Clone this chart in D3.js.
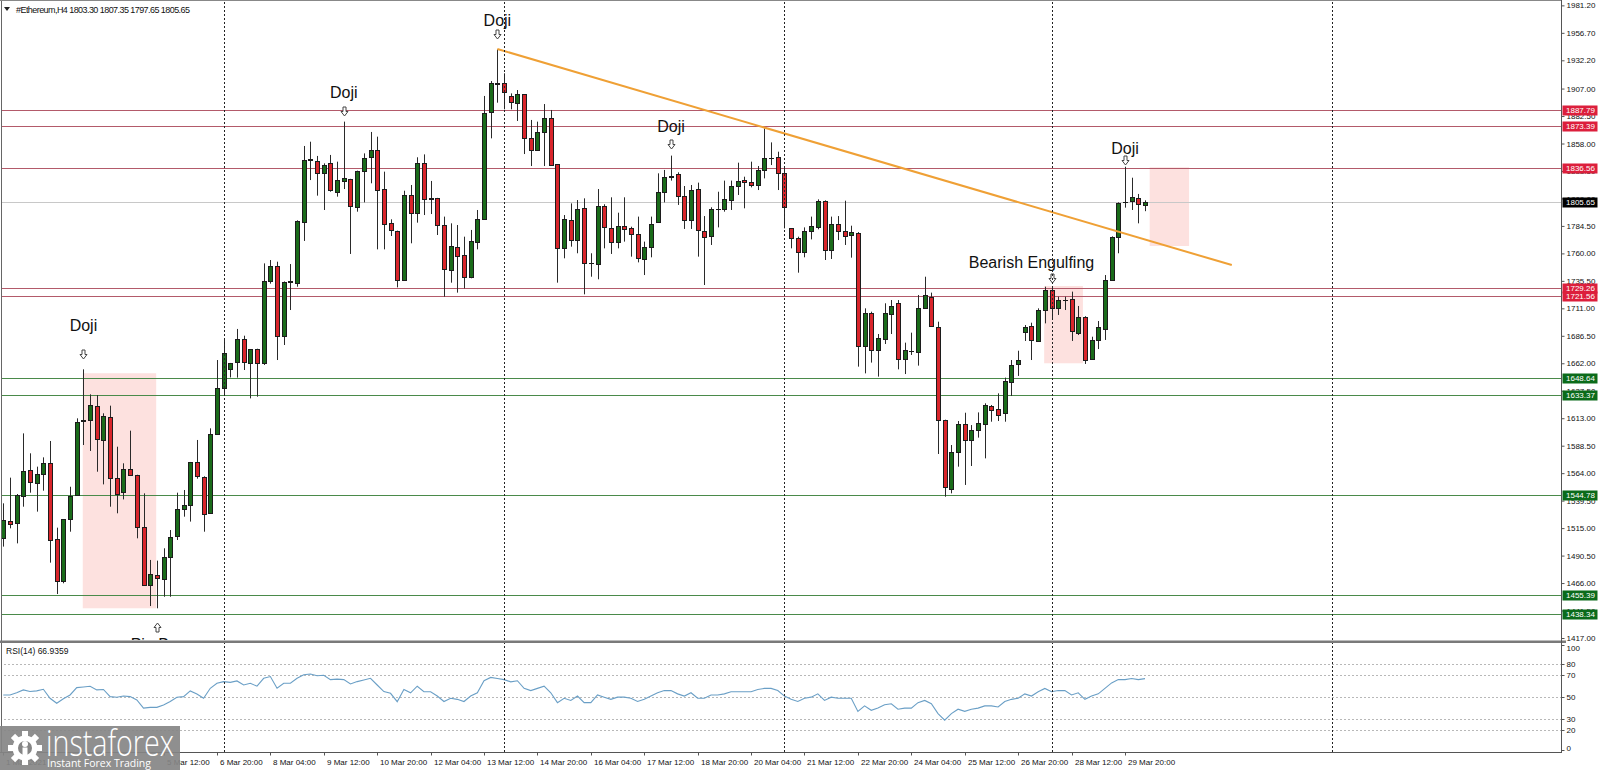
<!DOCTYPE html>
<html><head><meta charset="utf-8">
<script src="https://cdn.jsdelivr.net/npm/d3@7"></script>
<style>body{margin:0;background:#fff;overflow:hidden}svg{display:block}</style>
</head><body><svg id="c" width="1599" height="770"></svg>
<script>
// ---------------- DATA ----------------
const opens = [1505.9,1521.6,1519.9,1543.6,1566.8,1555.5,1563.3,1572.8,1505.0,1467.2,1523.7,1544.5,1610.2,1611.4,1624.2,1594.2,1614.4,1560.0,1546.9,1567.4,1562.4,1516.3,1464.3,1473.2,1470.2,1489.6,1507.4,1531.7,1535.6,1573.6,1560.9,1528.2,1598.9,1639.7,1656.6,1662.5,1683.4,1662.0,1674.7,1662.5,1735.7,1748.8,1686.3,1734.8,1733.9,1788.3,1843.3,1842.4,1831.4,1840.3,1815.0,1824.6,1826.0,1801.7,1833.5,1845.7,1852.2,1817.1,1786.8,1780.0,1736.3,1812.1,1795.7,1840.3,1808.5,1809.1,1785.3,1745.2,1765.4,1758.6,1738.6,1770.5,1790.7,1885.5,1911.7,1911.7,1900.4,1893.8,1901.8,1862.6,1852.2,1867.7,1881.0,1839.4,1764.5,1789.8,1771.4,1800.2,1751.1,1750.5,1802.3,1782.9,1770.5,1784.7,1782.9,1777.3,1755.6,1765.4,1787.7,1814.2,1828.5,1830.5,1811.2,1789.8,1817.1,1780.3,1775.5,1799.6,1799.3,1808.2,1820.4,1825.5,1824.0,1821.0,1834.4,1844.8,1845.7,1831.4,1782.3,1774.0,1761.5,1780.0,1783.8,1807.0,1763.0,1785.9,1780.0,1775.8,1778.5,1677.4,1706.5,1673.8,1683.7,1706.6,1715.5,1665.5,1673.2,1672.4,1711.6,1721.4,1694.7,1611.4,1550.5,1583.2,1607.8,1593.6,1603.1,1607.8,1624.2,1620.9,1617.9,1645.6,1661.4,1689.3,1695.6,1682.2,1709.5,1727.4,1711.6,1718.4,1719.0,1689.6,1703.6,1665.8,1682.8,1692.6,1736.3,1774.9,1805.8,1806.1,1809.1,1803.30];
const highs = [1537.1,1560.0,1545.4,1599.5,1581.7,1569.8,1578.1,1592.7,1515.4,1522.8,1551.9,1612.9,1656.6,1634.3,1633.7,1617.4,1624.2,1587.6,1572.8,1601.9,1562.6,1546.0,1486.6,1486.0,1497.0,1513.3,1546.6,1549.0,1574.0,1593.6,1561.2,1604.0,1664.9,1684.2,1662.3,1692.6,1686.6,1674.6,1675.0,1751.1,1754.1,1752.6,1735.0,1750.5,1789.5,1855.8,1859.6,1846.9,1840.3,1847.8,1841.8,1877.5,1826.5,1833.8,1849.2,1868.3,1864.1,1832.9,1790.4,1780.3,1815.9,1821.0,1845.7,1848.3,1824.6,1809.5,1792.8,1786.8,1785.3,1774.9,1780.9,1798.7,1900.4,1913.7,1942.0,1920.6,1902.7,1905.7,1902.0,1879.0,1877.5,1893.2,1887.9,1839.6,1794.2,1804.6,1807.6,1809.1,1760.1,1817.4,1803.8,1810.0,1796.3,1810.0,1783.8,1792.8,1770.5,1792.8,1831.4,1834.4,1847.2,1832.3,1820.1,1821.0,1823.1,1793.3,1801.1,1815.0,1824.9,1824.9,1840.9,1828.4,1841.8,1837.9,1871.5,1859.0,1850.7,1836.7,1782.5,1774.9,1783.2,1792.8,1808.2,1807.3,1792.8,1793.3,1807.0,1784.7,1779.0,1711.0,1708.0,1688.1,1715.5,1718.4,1718.4,1680.4,1689.3,1722.9,1739.2,1725.0,1699.1,1611.7,1589.1,1610.5,1617.9,1606.9,1618.2,1626.3,1624.8,1635.2,1649.2,1664.9,1673.2,1696.1,1698.2,1711.0,1730.3,1730.3,1721.4,1721.4,1725.9,1713.1,1704.0,1685.7,1699.7,1740.7,1775.2,1805.5,1837.3,1827.5,1813.0,1807.35];
const lows = [1498.5,1514.8,1501.4,1534.1,1546.6,1529.7,1548.4,1484.2,1456.2,1465.8,1511.8,1544.0,1589.1,1583.8,1565.3,1554.0,1534.1,1528.2,1540.6,1562.0,1505.9,1464.0,1445.5,1443.5,1453.8,1453.8,1504.4,1525.2,1520.8,1559.1,1511.8,1528.0,1598.5,1634.6,1649.4,1649.2,1656.0,1630.7,1632.2,1660.5,1733.0,1664.9,1678.3,1709.5,1730.3,1771.1,1825.4,1811.5,1798.7,1815.0,1810.6,1817.4,1759.5,1797.2,1805.5,1822.5,1763.6,1763.6,1775.5,1729.7,1736.0,1769.0,1787.4,1794.2,1795.1,1776.4,1721.4,1733.9,1725.0,1728.8,1737.8,1763.6,1790.5,1862.6,1894.4,1888.5,1888.5,1878.1,1848.6,1837.9,1852.0,1837.9,1838.8,1733.9,1755.6,1766.0,1760.1,1723.5,1739.2,1736.9,1764.5,1759.5,1764.5,1770.5,1757.1,1752.0,1740.7,1756.5,1787.5,1805.5,1824.9,1803.2,1781.8,1781.8,1757.1,1731.8,1767.5,1783.2,1797.2,1798.7,1812.1,1800.2,1818.9,1816.5,1826.9,1838.8,1816.5,1782.3,1764.5,1742.8,1756.5,1772.5,1781.5,1754.1,1755.0,1771.9,1767.5,1756.2,1659.0,1653.0,1662.6,1650.1,1679.2,1688.1,1656.6,1652.4,1669.4,1659.9,1711.0,1695.0,1581.1,1543.0,1546.0,1569.8,1553.5,1570.4,1595.7,1577.2,1609.9,1610.5,1609.9,1632.8,1650.7,1681.9,1664.9,1681.3,1697.6,1701.5,1705.1,1709.5,1681.9,1687.2,1661.4,1665.5,1674.7,1682.8,1736.0,1760.1,1800.8,1798.7,1786.8,1797.65];
const closes = [1522.2,1518.7,1544.5,1566.2,1556.4,1563.3,1573.4,1504.4,1467.2,1522.8,1543.9,1609.3,1611.4,1624.8,1595.0,1615.3,1560.0,1546.0,1567.4,1562.4,1516.3,1464.3,1474.1,1470.8,1489.6,1507.4,1531.7,1535.6,1573.6,1561.5,1528.2,1598.9,1639.7,1670.9,1662.0,1683.4,1662.5,1674.4,1662.5,1735.7,1748.8,1686.3,1734.8,1735.3,1788.9,1843.3,1843.9,1831.4,1838.8,1815.9,1825.4,1826.9,1801.7,1833.5,1845.4,1852.2,1816.5,1786.2,1780.3,1736.3,1812.1,1796.3,1840.3,1808.5,1809.1,1784.7,1745.8,1766.6,1757.7,1739.2,1771.1,1790.7,1885.5,1911.7,1911.2,1903.3,1895.3,1901.8,1862.6,1852.2,1868.6,1880.5,1839.4,1764.5,1790.4,1772.0,1799.3,1751.1,1751.5,1802.3,1783.2,1770.5,1784.4,1781.8,1777.3,1755.6,1766.0,1786.2,1814.4,1827.8,1829.0,1810.6,1789.8,1816.5,1780.3,1774.9,1799.6,1800.0,1808.2,1820.4,1824.9,1823.4,1821.0,1834.4,1844.8,1845.2,1831.4,1801.1,1773.4,1761.5,1780.0,1784.4,1807.0,1763.0,1785.9,1780.0,1775.8,1778.8,1677.4,1707.1,1673.8,1684.2,1707.1,1713.4,1665.5,1673.8,1672.9,1711.6,1722.9,1695.2,1611.4,1552.0,1583.2,1607.8,1593.6,1602.5,1609.0,1624.8,1620.3,1615.9,1646.2,1660.5,1664.9,1694.1,1682.8,1709.5,1727.4,1711.0,1718.4,1718.8,1690.2,1703.6,1664.9,1682.8,1694.1,1736.3,1774.9,1805.2,1806.2,1810.0,1803.8,1805.65];
const rsiValues = [52,52,54,56.6,55.1,55.7,57.2,49,44.4,48.5,52,58.7,59.3,60,56.6,57,50.5,49.9,51,50.5,47.4,40,40.7,40.7,42.9,46,49.9,50.5,55.7,52.9,49,58.1,62.7,64.2,63.5,64.8,61.1,62.7,60,67.2,68.8,58.1,62.7,62.7,67.2,70.5,71.2,69.5,70,66,66.5,66,62.1,64.2,65.7,67.2,61.1,55.1,53.5,45.9,57,54,60,55,55,51,46,49,48,46,51,54,65,68,67,66,64,65,58,56,58,60,54,45,49,47,51,45,45,52,50,48,50,50,49,46,48,51,54,56,56,53,51,54,49,49,52,52,53,55,55,55,55,57,58,58,56,51,48,46,49,50,53,47,50,49,49,49,37,42,38,40,43,44,39,40,40,45,47,44,35,29,35,39,37,39,40,42,42,41,46,48,49,53,51,55,58,55,56,56,52,54,48,51,53,58,63,66,66,67,66,66.94];

const priceTicks = [1981.20,1956.70,1932.20,1907.00,1882.50,1858.00,1833.50,1809.00,1784.50,1760.00,1735.50,1711.00,1686.50,1662.00,1637.50,1613.00,1588.50,1564.00,1539.50,1515.00,1490.50,1466.00,1441.50,1417.00];
const rsiTicks = [100,80,70,50,30,20,0];
const rsiGrid = [80,70,50,30,20];
const timeLabelBars = [0,24,32,40,48,56,64,72,80,88,96,104,112,120,128,136,144,152,160,168];
const timeLabels = ["1 Mar 2021","5 Mar 12:00","6 Mar 20:00","8 Mar 04:00","9 Mar 12:00","10 Mar 20:00","12 Mar 04:00","13 Mar 12:00","14 Mar 20:00","16 Mar 04:00","17 Mar 12:00","18 Mar 20:00","20 Mar 04:00","21 Mar 12:00","22 Mar 20:00","24 Mar 04:00","25 Mar 12:00","26 Mar 20:00","28 Mar 12:00","29 Mar 20:00"];
const separatorBars = [33,75,117,157,199];
const resistanceLevels = [1887.79,1873.39,1836.56,1729.26,1721.56];
const supportLevels = [1648.64,1633.37,1544.78,1455.39,1438.34];
const lastPrice = 1805.65;
const trendBars = [74,184];
const trendPrices = [1942.3,1749.6];
const zoneStartBars = [11.9,155.9,171.7];
const zoneEndBars = [22.9,161.7,177.6];
const zoneTops = [1653.1,1730.9,1836.8];
const zoneBottoms = [1443.5,1662.0,1766.6];
const noteTexts = ["Doji","Doji","Doji","Doji","Doji","Bearish Engulfing","Pin Bar"];
const noteBars = [12,51,74,100,168,154,23];
const notePrices = [1696.1,1903.7,1967.8,1873.0,1853.7,1751.7,1411.0];
const arrowBars = [12,51,74,100,168,157,23];
const arrowPrices = [1670.3,1887.0,1955.7,1857.6,1843.3,1737.8,1426.5];
const arrowDirs = ["down","down","down","down","down","down","up"];
const header = "#Ethereum,H4  1803.30 1807.35 1797.65 1805.65";
const rsiTitle = "RSI(14) 66.9359";

// ---------------- LAYOUT ----------------
const svg = d3.select("#c");
const W = 1599, H = 770;
const axisX = 1561, mainBottom = 640, rsiTop = 643.5, rsiBottom = 752;
const x = d3.scaleLinear().domain([0,171]).range([3.3,1145]);
const y = d3.scaleLinear().domain([1417,1981.2]).range([638,5.36]);
const yr = d3.scaleLinear().domain([0,100]).range([751.9,642.4]);
const FONT = "'Liberation Sans', Arial, sans-serif";

svg.append("rect").attr("width",W).attr("height",H).attr("fill","#fff");

const defs = svg.append("defs");
defs.append("clipPath").attr("id","mainClip").append("rect").attr("x",2).attr("y",2).attr("width",axisX-2).attr("height",mainBottom-2);
defs.append("clipPath").attr("id","rsiClip").append("rect").attr("x",2).attr("y",rsiTop).attr("width",axisX-2).attr("height",rsiBottom-rsiTop);

const main = svg.append("g").attr("clip-path","url(#mainClip)");

// zones
main.selectAll("rect.zone").data(zoneStartBars).join("rect").attr("class","zone")
  .attr("x",(d,i)=>x(d)).attr("width",(d,i)=>x(zoneEndBars[i])-x(d))
  .attr("y",(d,i)=>y(zoneTops[i])).attr("height",(d,i)=>y(zoneBottoms[i])-y(zoneTops[i]))
  .attr("fill","#fde1df");

// last price line
main.append("line").attr("x1",0).attr("x2",axisX).attr("y1",Math.round(y(lastPrice))+0.5).attr("y2",Math.round(y(lastPrice))+0.5)
  .attr("stroke","#c8c8c8").attr("stroke-width",1);

// level lines
main.selectAll("line.res").data(resistanceLevels).join("line").attr("class","res")
  .attr("x1",0).attr("x2",axisX).attr("y1",d=>Math.round(y(d))+0.5).attr("y2",d=>Math.round(y(d))+0.5)
  .attr("stroke","#b35a6a").attr("stroke-width",1);
main.selectAll("line.sup").data(supportLevels).join("line").attr("class","sup")
  .attr("x1",0).attr("x2",axisX).attr("y1",d=>Math.round(y(d))+0.5).attr("y2",d=>Math.round(y(d))+0.5)
  .attr("stroke","#4a8a4a").attr("stroke-width",1);

// candles
const idx = d3.range(opens.length);
const cx = i => Math.round(x(i));
main.selectAll("line.wick").data(idx).join("line").attr("class","wick")
  .attr("x1",i=>cx(i)+0.5).attr("x2",i=>cx(i)+0.5)
  .attr("y1",i=>y(highs[i])).attr("y2",i=>y(lows[i]))
  .attr("stroke","#2a2a2a").attr("stroke-width",1);
main.selectAll("rect.body").data(idx).join("rect").attr("class","body")
  .attr("x",i=>cx(i)-1.5).attr("width",4)
  .attr("y",i=>Math.round(y(Math.max(opens[i],closes[i])))+0.5)
  .attr("height",i=>Math.max(Math.round(Math.abs(y(opens[i])-y(closes[i]))),0.01))
  .attr("fill",i=>closes[i]>=opens[i]?"#1a6b1a":"#d9252b")
  .attr("stroke","#1c1c1c").attr("stroke-width",1);

// trendline
main.append("line").attr("x1",x(trendBars[0])).attr("y1",y(trendPrices[0]))
  .attr("x2",x(trendBars[1])).attr("y2",y(trendPrices[1]))
  .attr("stroke","#efa035").attr("stroke-width",2);

// notes
main.selectAll("text.note").data(noteTexts).join("text").attr("class","note")
  .attr("x",(d,i)=>x(noteBars[i])).attr("y",(d,i)=>y(notePrices[i]))
  .attr("text-anchor","middle").attr("dominant-baseline","central")
  .attr("font-family",FONT).attr("font-size",16).attr("fill","#111").text(d=>d);
const arrowDown = "M-1.5,-4.5 L1.5,-4.5 L1.5,0 L3.5,0 L0,4.5 L-3.5,0 L-1.5,0 Z";
const arrowUp = "M-1.5,4.5 L1.5,4.5 L1.5,0 L3.5,0 L0,-4.5 L-3.5,0 L-1.5,0 Z";
main.selectAll("path.arrow").data(arrowBars).join("path").attr("class","arrow")
  .attr("transform",(d,i)=>`translate(${cx(d)+0.5},${Math.round(y(arrowPrices[i]))+0.5})`)
  .attr("d",(d,i)=>arrowDirs[i]==="down"?arrowDown:arrowUp)
  .attr("fill","#fff").attr("stroke","#444").attr("stroke-width",1);

// header
svg.append("path").attr("d","M4,7 L10,7 L7,11 Z").attr("fill","#222");
svg.append("text").attr("x",16).attr("y",12.5).attr("font-family",FONT).attr("font-size",9)
  .attr("fill","#111").attr("textLength",174).text(header);

// RSI panel
const rsiG = svg.append("g").attr("clip-path","url(#rsiClip)");
rsiG.selectAll("line.rg").data(rsiGrid).join("line").attr("class","rg")
  .attr("x1",0).attr("x2",axisX).attr("y1",d=>Math.round(yr(d))+0.5).attr("y2",d=>Math.round(yr(d))+0.5)
  .attr("stroke","#b8b8b8").attr("stroke-dasharray","2,2").attr("stroke-width",1);
rsiG.append("path").datum(rsiValues)
  .attr("d",d3.line().x((d,i)=>x(i)).y(d=>yr(d)))
  .attr("fill","none").attr("stroke","#6a9fc6").attr("stroke-width",1.1);
svg.append("text").attr("x",6).attr("y",654).attr("font-family",FONT).attr("font-size",8.5)
  .attr("fill","#111").text(rsiTitle);

// separators
svg.selectAll("line.sep").data(separatorBars).join("line").attr("class","sep")
  .attr("x1",d=>cx(d)+0.5).attr("x2",d=>cx(d)+0.5).attr("y1",2).attr("y2",rsiBottom)
  .attr("stroke","#222").attr("stroke-width",1).attr("stroke-dasharray","2,2");

// frames
svg.append("line").attr("x1",1.5).attr("x2",1.5).attr("y1",0).attr("y2",rsiBottom).attr("stroke","#666");
svg.append("line").attr("x1",0).attr("x2",axisX).attr("y1",0.5).attr("y2",0.5).attr("stroke","#888");
svg.append("rect").attr("x",0).attr("y",mainBottom+0.5).attr("width",axisX+5).attr("height",2.5).attr("fill","#7a7a7a");
svg.append("line").attr("x1",0).attr("x2",axisX+1).attr("y1",rsiBottom+0.5).attr("y2",rsiBottom+0.5).attr("stroke","#555");
svg.append("line").attr("x1",axisX+0.5).attr("x2",axisX+0.5).attr("y1",0).attr("y2",rsiBottom+1).attr("stroke","#555");

// price axis
const pAxis = svg.append("g").attr("transform",`translate(${axisX+0.5},0)`)
  .call(d3.axisRight(y).tickValues(priceTicks).tickFormat(d=>d.toFixed(2)).tickSize(3).tickPadding(2));
pAxis.select(".domain").remove();
pAxis.selectAll("line").attr("stroke","#555");
pAxis.selectAll("text").attr("font-family",FONT).attr("font-size",8).attr("fill","#111");

// level boxes
function levelBox(p, fill){
  const yy = Math.round(y(p));
  svg.append("rect").attr("x",axisX+1.5).attr("y",yy-4.5).attr("width",35).attr("height",10).attr("fill",fill);
  svg.append("text").attr("x",axisX+5).attr("y",yy+0.5).attr("dominant-baseline","central")
    .attr("font-family",FONT).attr("font-size",8).attr("fill","#fff").text(p.toFixed(2));
}
resistanceLevels.forEach(p=>levelBox(p,"#dc1f3c"));
supportLevels.forEach(p=>levelBox(p,"#0b6b1a"));
levelBox(lastPrice,"#000");

// rsi axis
const rAxis = svg.append("g").attr("transform",`translate(${axisX+0.5},0)`);
rAxis.selectAll("line").data(rsiTicks).join("line")
  .attr("x1",0).attr("x2",3).attr("y1",d=>Math.min(Math.max(Math.round(yr(d)),645),750)+0.5).attr("y2",d=>Math.min(Math.max(Math.round(yr(d)),645),750)+0.5).attr("stroke","#555");
rAxis.selectAll("text").data(rsiTicks).join("text")
  .attr("x",5).attr("y",d=>Math.min(Math.max(yr(d),648),748.3)).attr("dominant-baseline","central")
  .attr("font-family",FONT).attr("font-size",8).attr("fill","#111").text(d=>d);

// time axis
const tAxis = svg.append("g").attr("transform",`translate(0,${rsiBottom+0.5})`);
tAxis.selectAll("line").data(timeLabelBars).join("line")
  .attr("x1",d=>cx(d)+0.5).attr("x2",d=>cx(d)+0.5).attr("y1",0).attr("y2",3).attr("stroke","#555");
tAxis.selectAll("text").data(timeLabelBars).join("text")
  .attr("x",d=>cx(d)+3).attr("y",12).attr("font-family",FONT).attr("font-size",8).attr("fill","#111")
  .text((d,i)=>timeLabels[i]);

// logo
const logo = svg.append("g");
logo.append("rect").attr("x",0).attr("y",726).attr("width",180).attr("height",44).attr("fill","#858585").attr("opacity",0.92);
const gear = logo.append("g").attr("transform","translate(25,748)");
const teeth = d3.range(8).map(i=>i*Math.PI/4);
gear.selectAll("rect").data(teeth).join("rect").attr("x",-3).attr("y",-17).attr("width",6).attr("height",8)
  .attr("fill","#fff").attr("transform",d=>`rotate(${d*180/Math.PI})`);
gear.append("circle").attr("r",12.5).attr("fill","#fff");
gear.append("circle").attr("r",7).attr("fill","#858585");
gear.append("circle").attr("cx",0).attr("cy",-4).attr("r",3).attr("fill","#fff");
gear.append("rect").attr("x",-2.5).attr("y",-0.5).attr("width",5).attr("height",10).attr("fill","#fff");
logo.append("text").attr("x",46).attr("y",756).attr("font-family","'Open Sans', 'Noto Sans', sans-serif").attr("font-weight",300)
  .attr("font-size",37).attr("fill","#fff").attr("textLength",128).attr("lengthAdjust","spacingAndGlyphs").text("instaforex");
logo.append("text").attr("x",47).attr("y",767).attr("font-family","'Open Sans', sans-serif")
  .attr("font-size",10.5).attr("fill","#fff").attr("textLength",104).text("Instant Forex Trading");
</script></body></html>
